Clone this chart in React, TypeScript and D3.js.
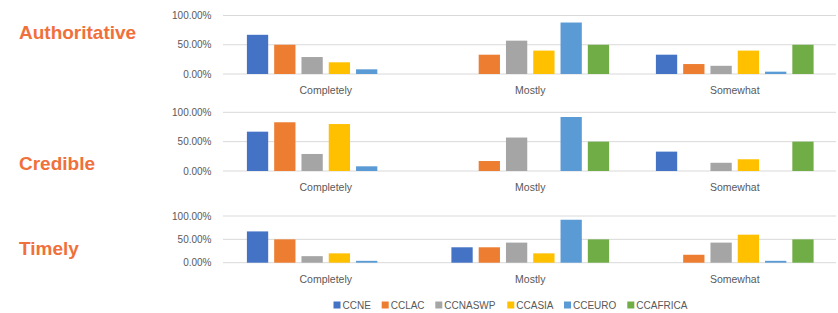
import React, { useEffect, useRef } from 'react';
import * as d3 from 'd3';

// categories and series
const categories = ['Completely', 'Mostly', 'Somewhat'];
const series = ['CCNE', 'CCLAC', 'CCNASWP', 'CCASIA', 'CCEURO', 'CCAFRICA'];
const colors = ['#4472C4', '#ED7D31', '#A5A5A5', '#FFC000', '#5B9BD5', '#70AD47'];
const tickValues = [0, 0.5, 1];

// values per series: [Completely, Mostly, Somewhat]
const authoritative = [
  [0.67, 0, 0.33],
  [0.5, 0.33, 0.17],
  [0.29, 0.57, 0.14],
  [0.2, 0.4, 0.4],
  [0.08, 0.88, 0.04],
  [0, 0.5, 0.5],
];
const credible = [
  [0.67, 0, 0.33],
  [0.83, 0.17, 0],
  [0.29, 0.57, 0.14],
  [0.8, 0, 0.2],
  [0.08, 0.92, 0],
  [0, 0.5, 0.5],
];
const timely = [
  [0.67, 0.33, 0],
  [0.5, 0.33, 0.17],
  [0.14, 0.43, 0.43],
  [0.2, 0.2, 0.6],
  [0.04, 0.92, 0.04],
  [0, 0.5, 0.5],
];

const panels = [
  { title: 'Authoritative', data: authoritative, top: 15.5, bottom: 74, titleY: 32.5, labelY: 94 },
  { title: 'Credible', data: credible, top: 112.3, bottom: 171, titleY: 163.5, labelY: 191 },
  { title: 'Timely', data: timely, top: 216, bottom: 262.7, titleY: 248, labelY: 283 },
];

const App = () => {
  const ref = useRef<SVGSVGElement>(null);

  useEffect(() => {
    const svg = d3.select(ref.current);
    svg.selectAll('*').remove();

    const font = '"Liberation Sans", Arial, sans-serif';

    const x0 = d3.scaleBand().domain(categories).range([223.5, 837]).padding(0);
    const bw = x0.bandwidth();
    const x1 = d3
      .scaleBand()
      .domain(series)
      .range([23.4, bw - 23.4])
      .paddingInner(0.22)
      .paddingOuter(0);

    panels.forEach((p) => {
      const y = d3.scaleLinear().domain([0, 1]).range([p.bottom, p.top]);
      const g = svg.append('g');

      // title
      g.append('text')
        .attr('x', 19)
        .attr('y', p.titleY)
        .attr('dy', '0.35em')
        .style('font-family', font)
        .style('font-weight', 'bold')
        .style('font-size', '19px')
        .style('fill', '#F0703C')
        .text(p.title);

      // gridlines and tick labels
      tickValues.forEach((t) => {
        g.append('line')
          .attr('x1', 223)
          .attr('x2', 836)
          .attr('y1', y(t))
          .attr('y2', y(t))
          .attr('stroke', '#D9D9D9')
          .attr('stroke-width', 1);
        g.append('text')
          .attr('x', 211.5)
          .attr('y', y(t))
          .attr('dy', '0.35em')
          .attr('text-anchor', 'end')
          .style('font-family', font)
          .style('font-size', '10px')
          .style('fill', '#595959')
          .text(d3.format('.2%')(t));
      });

      // bars
      categories.forEach((c, ci) => {
        series.forEach((s, si) => {
          const v = p.data[si][ci];
          if (!v) return;
          g.append('rect')
            .attr('x', (x0(c) as number) + (x1(s) as number))
            .attr('y', y(v))
            .attr('width', x1.bandwidth())
            .attr('height', y(0) - y(v))
            .attr('fill', colors[si]);
        });
        g.append('text')
          .attr('x', (x0(c) as number) + bw / 2)
          .attr('y', p.labelY)
          .attr('text-anchor', 'middle')
          .style('font-family', font)
          .style('font-size', '10.5px')
          .style('fill', '#595959')
          .text(c);
      });
    });

    // legend
    const legendX = [333.5, 381.7, 435.3, 507.3, 564, 627.3];
    const legend = svg.append('g');
    series.forEach((s, i) => {
      legend
        .append('rect')
        .attr('x', legendX[i])
        .attr('y', 301.5)
        .attr('width', 7)
        .attr('height', 7)
        .attr('fill', colors[i]);
      legend
        .append('text')
        .attr('x', legendX[i] + 9)
        .attr('y', 305)
        .attr('dy', '0.35em')
        .style('font-family', font)
        .style('font-size', '10px')
        .style('fill', '#595959')
        .text(s);
    });
  }, []);

  return (
    <svg
      ref={ref}
      width={838}
      height={313}
      style={{ position: 'absolute', left: 0, top: 0, background: '#fff' }}
    ></svg>
  );
};

export default App;
